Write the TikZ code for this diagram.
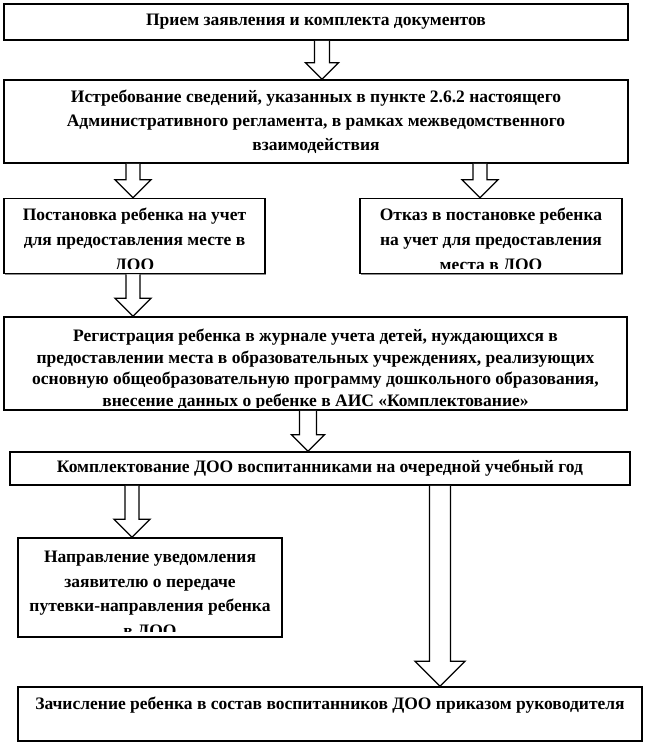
\documentclass[tikz,border=0pt]{standalone}
\usepackage{fontspec}
\setmainfont{Liberation Serif}
\usetikzlibrary{calc,shadows}

% hollow block arrow: x, from node, to node, half shaft, half head
\newcommand{\fatarrow}[5]{%
\draw[arrowline] let \p1=(#2.south), \p2=(#3.north) in
(#1pt-#4pt,\y1) -- (#1pt-#4pt,\y2+#5pt) -- (#1pt-#5pt,\y2+#5pt) -- (#1pt,\y2)
-- (#1pt+#5pt,\y2+#5pt) -- (#1pt+#4pt,\y2+#5pt) -- (#1pt+#4pt,\y1);}

\begin{document}
\begin{tikzpicture}[x=1pt,y=-1pt]
\tikzstyle{box}=[draw, line width=1.5pt, fill=white,
  drop shadow={shadow xshift=1.2pt, shadow yshift=-1.2pt, fill=black, opacity=0.45}]
\tikzstyle{txt}=[align=center, inner sep=0pt, font=\bfseries\fontsize{17.5}{22}\selectfont]
\tikzstyle{arrowline}=[draw, line width=1.3pt, fill=white, line join=miter]
\useasboundingbox (0,0) rectangle (646,744);

\node at (316,22) [box, minimum width=624, minimum height=36] (b1) {};
\node at (b1) [txt] (t1) {Прием заявления и комплекта документов};

\node at (316,121.5) [box, minimum width=624, minimum height=83] (b2) {};
\node at (b2) [txt, font=\bfseries\fontsize{17.5}{24}\selectfont] (t2)
{Истребование сведений, указанных в пункте 2.6.2 настоящего\\
Административного регламента, в рамках межведомственного\\
взаимодействия};

\node at (134.5,236) [box, minimum width=261, minimum height=75] (b3) {};
\begin{scope}
\clip ($(b3.south west)+(2,-6)$) rectangle ($(b3.north east)+(-2,2)$);
\node at (b3.north) [txt, anchor=north, yshift=-10pt,
  font=\bfseries\fontsize{17.5}{25}\selectfont] (t3)
{Постановка ребенка на учет\\ для предоставления месте в\\ ДОО};
\end{scope}

\node at (491,236) [box, minimum width=262, minimum height=75] (b4) {};
\begin{scope}
\clip ($(b4.south west)+(2,-6)$) rectangle ($(b4.north east)+(-2,2)$);
\node at (b4.north) [txt, anchor=north, yshift=-10pt,
  font=\bfseries\fontsize{17.5}{25}\selectfont] (t4)
{Отказ в постановке ребенка\\ на учет для предоставления\\ места в ДОО};
\end{scope}

\node at (315.5,363.5) [box, minimum width=623, minimum height=93] (b5) {};
\begin{scope}
\clip ($(b5.south west)+(2,-3)$) rectangle ($(b5.north east)+(-2,2)$);
\node at (b5.north) [txt, anchor=north, yshift=-13pt,
  font=\bfseries\fontsize{17.5}{21.5}\selectfont] (t5)
{Регистрация ребенка в журнале учета детей, нуждающихся в\\
предоставлении места в образовательных учреждениях, реализующих\\
основную общеобразовательную программу дошкольного образования,\\
внесение данных о ребенке в АИС «Комплектование»};
\end{scope}

\node at (320,468.5) [box, minimum width=620, minimum height=33] (b6) {};
\node at (b6) [txt] (t6) {Комплектование ДОО воспитанниками на очередной учебный год};

\node at (150,587.5) [box, minimum width=264, minimum height=99] (b7) {};
\begin{scope}
\clip ($(b7.south west)+(2,-6)$) rectangle ($(b7.north east)+(-2,2)$);
\node at (b7.north) [txt, anchor=north, yshift=-14pt,
  font=\bfseries\fontsize{17.5}{24.5}\selectfont] (t7)
{Направление уведомления\\ заявителю о передаче\\ путевки-направления ребенка\\ в ДОО};
\end{scope}

\node at (330,714) [box, minimum width=624, minimum height=54] (b8) {};
\node at (b8.north) [txt, anchor=north, yshift=-11pt] (t8)
{Зачисление ребенка в состав воспитанников ДОО приказом руководителя};

\fatarrow{322}{b1}{b2}{7.5}{16.5}
\fatarrow{133}{b2}{b3}{7}{18}
\fatarrow{480}{b2}{b4}{7}{18}
\fatarrow{133}{b3}{b5}{7}{18}
\fatarrow{308}{b5}{b6}{8.5}{16.5}
\fatarrow{132}{b6}{b7}{7}{18}
\fatarrow{440}{b6}{b8}{10.5}{25}
\end{tikzpicture}
\end{document}
